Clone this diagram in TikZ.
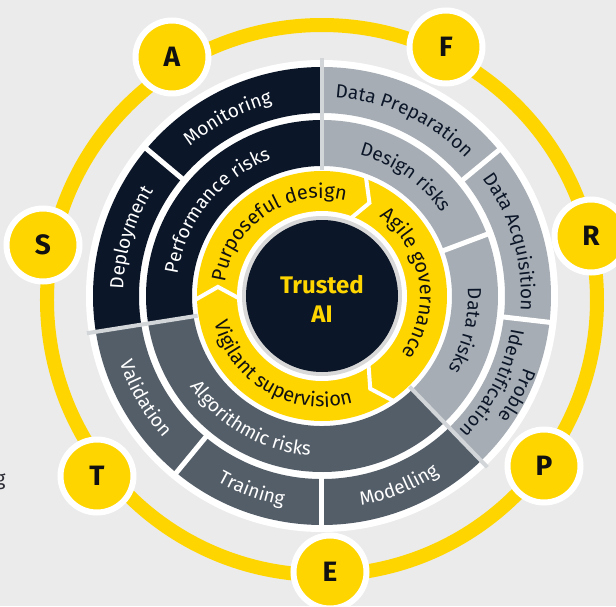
\documentclass[tikz,border=0pt]{standalone}
\usepackage{fontspec}
\setmainfont{Fira Sans}
\usetikzlibrary{decorations.text}
\definecolor{eybg}{HTML}{EBEBEB}
\definecolor{eyyellow}{HTML}{FFD500}
\definecolor{eynavy}{HTML}{0B1628}
\definecolor{eylight}{HTML}{A6ADB4}
\definecolor{eymid}{HTML}{545E69}
\definecolor{eyrim}{HTML}{D8D8D8}
\definecolor{eysplit}{HTML}{D3D6D9}
\definecolor{eyink}{HTML}{111111}
\definecolor{eytext}{HTML}{2E2E38}
\newcommand{\ringfont}{\fontsize{19}{21}\selectfont}
\newcommand{\corefont}{\fontsize{20}{22}\selectfont}
\tikzset{
  letter/.style={circle,fill=eyyellow,draw=white,line width=6pt,minimum size=73pt,inner sep=0pt,font=\fontsize{28}{30}\selectfont\bfseries,text=eyink},
  cut/.style={draw=white,line width=5pt},
  split/.style={draw=eysplit,line width=4pt},
  chev/.style={draw=white,line width=4pt,line join=miter},
}
% filled ring segment: colour, from, to, inner radius, outer radius
\newcommand{\ringseg}[5]{\fill[#1] (#2:#4) arc[start angle=#2,end angle=#3,radius=#4] -- (#3:#5) arc[start angle=#3,end angle=#2,radius=#5] -- cycle;}
% text on an arc: colour, font, radius, from, to, text
\newcommand{\arclbl}[6]{\path[decorate,decoration={text along path,text align=center,text color=#1,text={|#2|#6}}] (#4:#3) arc[start angle=#4,end angle=#5,radius=#3];}
\begin{document}
\begin{tikzpicture}[x=1pt,y=1pt]
  \clip (-322,-310) rectangle (294,296);
  \fill[eybg] (-322,-310) rectangle (294,296);
  % outer track
  \draw[eyyellow,line width=14pt] (0,-4) circle[radius=275];
  \fill[white] (0,0) circle[radius=236];
  % lifecycle ring
  \ringseg{eynavy}{90}{189}{183}{229}
  \ringseg{eymid}{189}{314}{183}{229}
  \ringseg{eylight}{-46}{90}{183}{229}
  % risk ring
  \ringseg{eynavy}{90}{189}{130}{176}
  \ringseg{eymid}{189}{314}{130}{176}
  \ringseg{eylight}{-46}{90}{130}{176}
  \foreach \a in {140,230.5,270,353.4,39.5} \draw[cut] (\a:180) -- (\a:232);
  \draw[cut] (20.5:127) -- (20.5:179);
  \foreach \a in {90,189,314} \draw[split] (\a:126) -- (\a:238);
  % principles ring
  \fill[eyyellow] (0,0) circle[radius=125];
  \fill[white] (0,0) circle[radius=85];
  \foreach \a in {70,-55.5,182} \draw[chev] (\a:128) -- ({\a-7}:104.5) -- (\a:82);
  \fill[eyrim] (0,0) circle[radius=80];
  \fill[eynavy] (0,0) circle[radius=76];
  \node[font=\fontsize{24}{29}\selectfont\bfseries,text=eyyellow,align=center] (core) at (0,-3) {Trusted\\AI};
  % lifecycle labels
  \arclbl{white}{\ringfont}{199}{143}{93}{Monitoring}
  \arclbl{white}{\ringfont}{199}{190}{136}{Deployment}
  \arclbl{eynavy}{\ringfont}{199}{102}{28}{Data Preparation}
  \arclbl{eynavy}{\ringfont}{199}{50}{-18}{Data Acquisition}
  \arclbl{eynavy}{\ringfont}{214}{3}{-57}{Proble}
  \arclbl{eynavy}{\ringfont}{192}{7}{-61}{Identification}
  \arclbl{white}{\ringfont}{213}{183}{237}{Validation}
  \arclbl{white}{\ringfont}{213}{223}{277}{Training}
  \arclbl{white}{\ringfont}{213}{265}{319}{Modelling}
  % risk labels
  \arclbl{white}{\ringfont}{146}{195}{87}{Performance risks}
  \arclbl{eynavy}{\ringfont}{146}{97}{13}{Design risks}
  \arclbl{eynavy}{\ringfont}{146}{27}{-54}{Data risks}
  \arclbl{white}{\ringfont}{160}{185}{295}{Algorithmic risks}
  % principle labels
  \arclbl{eyink}{\corefont}{98}{185}{63}{Purposeful design}
  \arclbl{eyink}{\corefont}{98}{70}{-52}{Agile governance}
  \arclbl{eyink}{\corefont}{111}{175}{305}{Vigilant supervision}
  % letters
  \node[letter] (A) at (-150,239) {A};
  \node[letter] (F) at (124,249) {F};
  \node[letter] (R) at (269,60) {R};
  \node[letter] (P) at (222,-170) {P};
  \node[letter] (E) at (8,-276) {E};
  \node[letter] (T) at (-225,-180) {T};
  \node[letter] (S) at (-279,51) {S};
  \node[font=\fontsize{20}{22}\selectfont,text=eytext,anchor=base east] (cutg) at (-313,-189) {g};
\end{tikzpicture}
\end{document}
